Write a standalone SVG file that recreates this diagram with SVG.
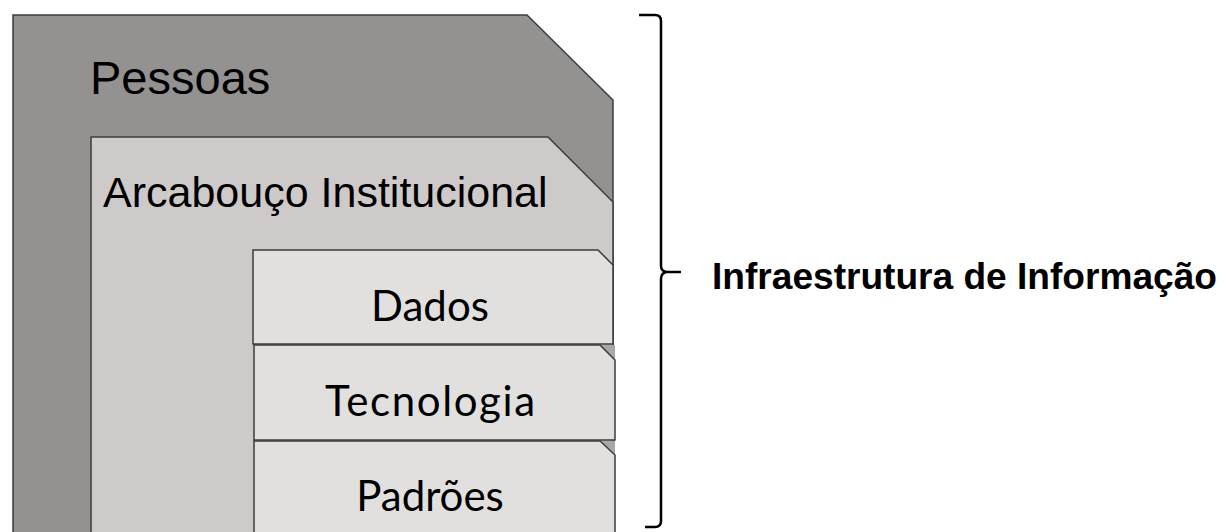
<svg xmlns="http://www.w3.org/2000/svg" width="1225" height="532" viewBox="0 0 1225 532">
<style>
.box{stroke:#3c3c3c;stroke-width:1.5;stroke-linejoin:miter}
.outer{fill:#939291}
.mid{fill:#cdcac9}
.inner{fill:#e1e0df}
.shade{fill:#a9a8a7;stroke:none}
.sans{font-family:"Liberation Sans",Arial,sans-serif;fill:#000}
.cal{font-family:Lato,"Open Sans",sans-serif;fill:#000;font-size:42px;text-anchor:middle}
.brace{fill:none;stroke:#000;stroke-width:2.5;stroke-linecap:butt;stroke-linejoin:round}
</style>
<rect x="0" y="0" width="1225" height="532" fill="#ffffff"/>
<g id="pessoas">
<path class="box outer" d="M13,15 H527 L613,100 V545 H13 Z"/>
<text class="sans" x="90" y="94" font-size="47">Pessoas</text>
</g>
<g id="arcabouco">
<path class="box mid" d="M91,137 H548 L613,202 V545 H91 Z"/>
<text class="sans" x="103" y="207" font-size="43">Arcabouço Institucional</text>
</g>
<g id="dados">
<path class="box inner" d="M253,250 H598 L613,265 V344 H253 Z"/>
<text class="cal" x="430" y="321">Dados</text>
</g>
<g id="tecnologia">
<path class="shade" d="M600,345 H615 V360 Z"/>
<path class="box inner" d="M254,345 H600 L615,360 V440 H254 Z"/>
<text class="cal" x="430" y="416" textLength="210">Tecnologia</text>
</g>
<g id="padroes">
<path class="shade" d="M600,441 H615 V455 Z"/>
<path class="box inner" d="M254,441 H600 L615,455 V545 H254 Z"/>
<text class="cal" x="430" y="511">Padrões</text>
</g>
<g id="connectors">
<path class="brace" d="M639,15 H655 Q661,15 661,21 V266 Q661,272 668,272 H681 M668,272 Q661,272 661,279 V521 Q661,527 655,527 H645"/>
</g>
<g id="label">
<text class="sans" x="712" y="289" font-size="37" font-weight="bold" textLength="505" lengthAdjust="spacingAndGlyphs">Infraestrutura de Informação</text>
</g>
</svg>
